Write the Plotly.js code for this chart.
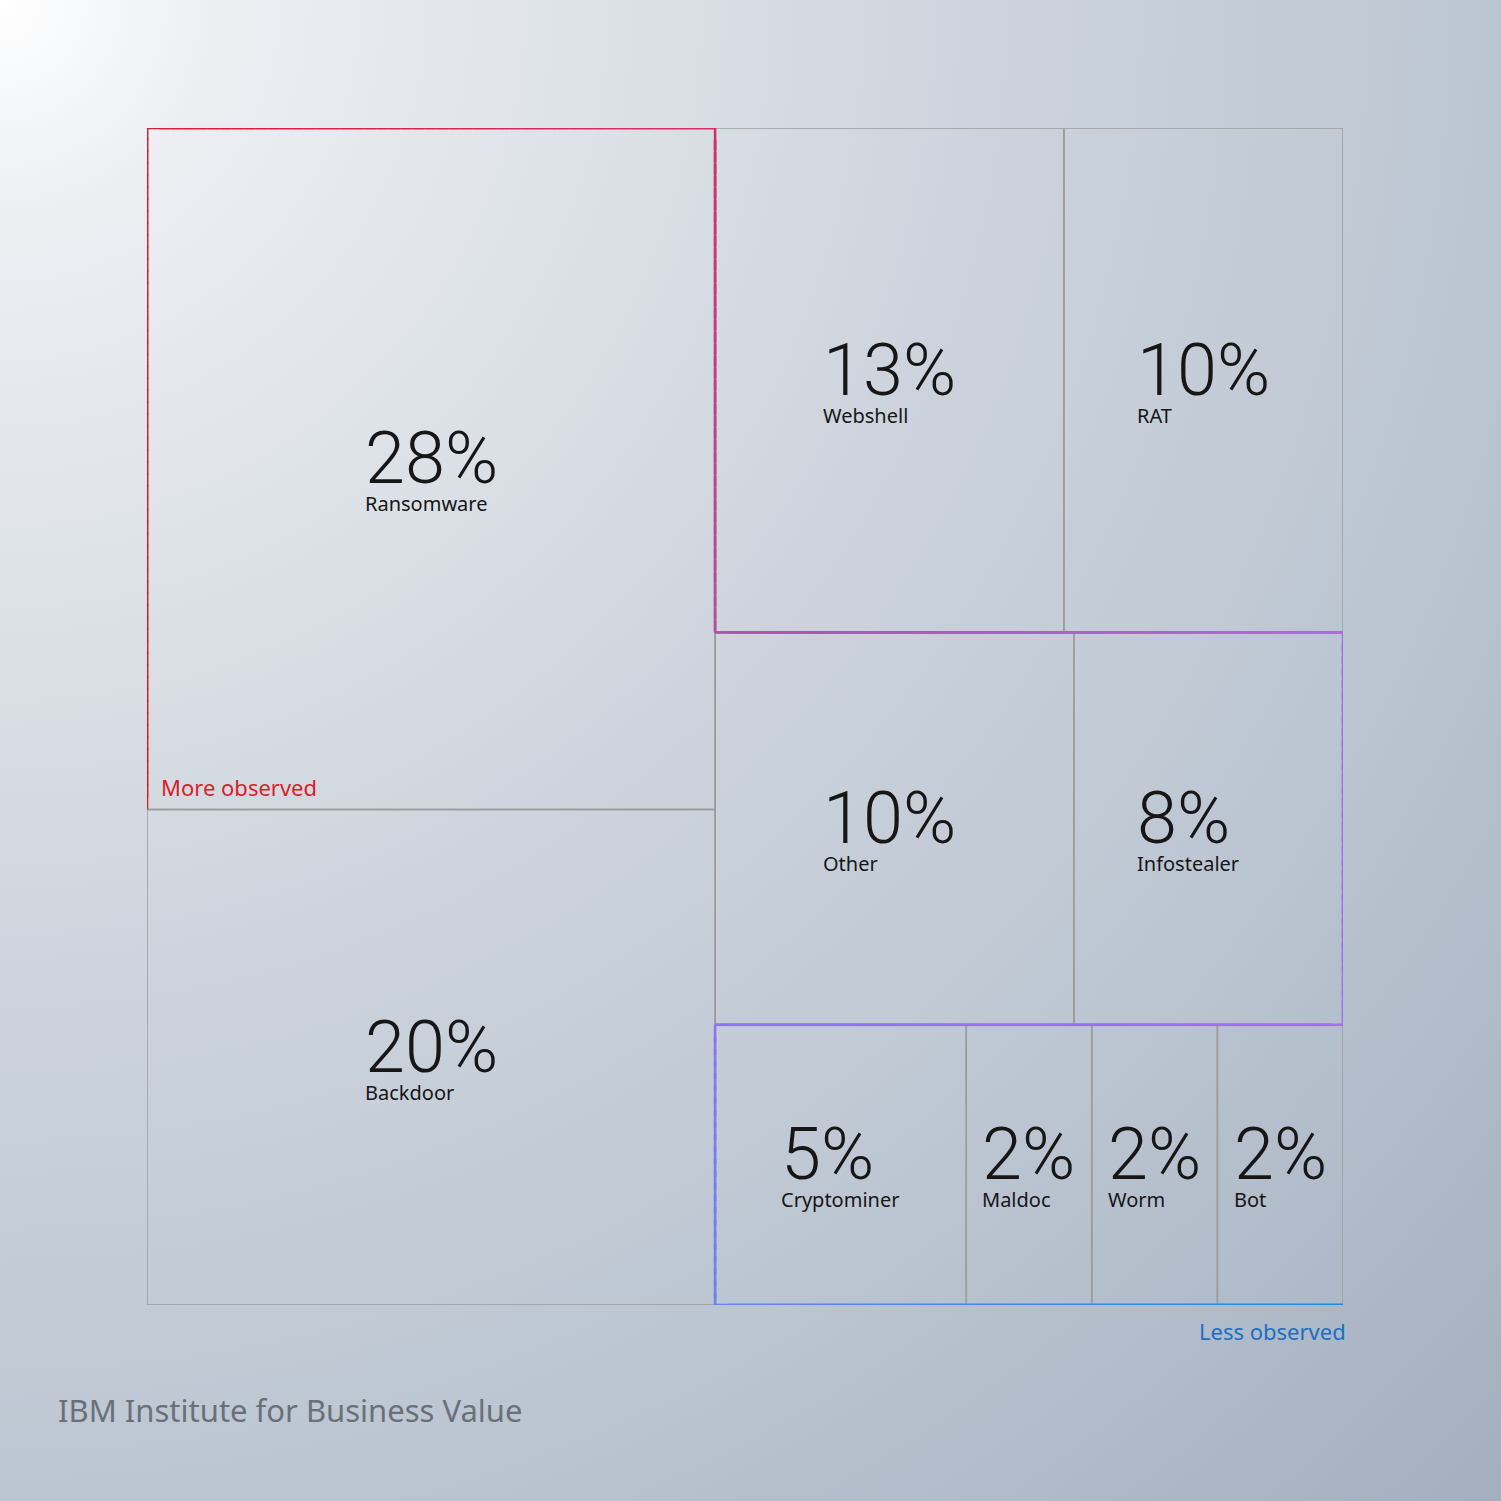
<!DOCTYPE html>
<html>
<head>
<meta charset="utf-8">
<script src="https://cdn.plot.ly/plotly-3.0.1.min.js"></script>
<style>
  html, body { margin: 0; padding: 0; overflow: hidden; }
  #chart {
    width: 1501px; height: 1501px;
    background: radial-gradient(circle at 0px 0px, #ffffff 0px, #eceef2 220px, #dde2e8 600px, #ccd3dc 1000px, #bcc6d2 1500px, #a4afbf 2122px);
  }
</style>
</head>
<body>
<div id="chart"></div>
<script>
// ---------------- data ----------------
const categories  = ['Ransomware', 'Backdoor', 'Webshell', 'RAT', 'Other', 'Infostealer', 'Cryptominer', 'Maldoc', 'Worm', 'Bot'];
const shares      = [27.5, 20, 12.5, 10, 10, 7.5, 5, 2.5, 2.5, 2.5];
const shareLabels = ['28%', '20%', '13%', '10%', '10%', '8%', '5%', '2%', '2%', '2%'];
// treemap structure: columns -> rows -> categories
const leftColumnRows  = [['Ransomware'], ['Backdoor']];
const rightColumnRows = [['Webshell', 'RAT'], ['Other', 'Infostealer'], ['Cryptominer', 'Maldoc', 'Worm', 'Bot']];
// labels of these cells line up with the labels of the cell above
const alignTextWith = { Other: 'Webshell', Infostealer: 'RAT' };
const sourceText = 'IBM Institute for Business Value';
const moreText = 'More observed';
const lessText = 'Less observed';

// ---------------- layout computation ----------------
const W = 1501, H = 1501;
const M = { l: 147, r: 158, t: 128, b: 196 };
const plotW = W - M.l - M.r, plotH = H - M.t - M.b;

const valueOf = name => shares[categories.indexOf(name)];
const sum = arr => arr.reduce((a, n) => a + valueOf(n), 0);
const total = shares.reduce((a, b) => a + b, 0);
const rects = {};
let cx = 0;
[leftColumnRows, rightColumnRows].forEach(col => {
  const colSum = col.reduce((a, row) => a + sum(row), 0);
  const colW = colSum / total * 100;
  let cy = 0;
  col.forEach(row => {
    const rowSum = sum(row);
    const rowH = rowSum / colSum * 100;
    let rx = cx;
    row.forEach(name => {
      const w = valueOf(name) / rowSum * colW;
      rects[name] = { x0: rx, x1: rx + w, y0: cy, y1: cy + rowH };
      rx += w;
    });
    cy += rowH;
  });
  cx += colW;
});

const traces = [];
// grey cell outlines
const gx = [], gy = [];
categories.forEach(name => {
  const r = rects[name];
  gx.push(r.x0, r.x1, r.x1, r.x0, r.x0, null);
  gy.push(r.y0, r.y0, r.y1, r.y1, r.y0, null);
});
traces.push({ type: 'scatter', mode: 'lines', x: gx, y: gy, line: { color: '#9c9c9c', width: 1.5 }, hoverinfo: 'skip', showlegend: false });

// gradient "more -> less observed" staircase
const R = rects['Ransomware'], Wr = rects['Webshell'], Or = rects['Other'], Cr = rects['Cryptominer'];
const verts = [
  [R.x0, R.y1], [R.x0, R.y0], [R.x1, R.y0], [Wr.x0, Wr.y1], [100, Wr.y1],
  [100, Or.y1], [Cr.x0, Cr.y0], [Cr.x0, 100], [100, 100]
];
const vcols = ['#da1e28', '#d81f38', '#cf3168', '#b64f9e', '#a66de6', '#a070ee', '#8a74f6', '#6a82ee', '#1a8ee0'];
function hex2rgb(h) { return [1, 3, 5].map(i => parseInt(h.substr(i, 2), 16)); }
function mix(a, b, t) { const A = hex2rgb(a), B = hex2rgb(b); return 'rgb(' + A.map((v, i) => Math.round(v + (B[i] - v) * t)).join(',') + ')'; }
for (let i = 0; i < verts.length - 1; i++) {
  const [xa, ya] = verts[i], [xb, yb] = verts[i + 1];
  const lenPx = Math.abs(xb - xa) * plotW / 100 + Math.abs(yb - ya) * plotH / 100;
  const n = Math.max(2, Math.round(lenPx / 12));
  for (let k = 0; k < n; k++) {
    const t0 = k / n, t1 = (k + 1) / n;
    traces.push({
      type: 'scatter', mode: 'lines',
      x: [xa + (xb - xa) * t0, xa + (xb - xa) * Math.min(1, t1 + 0.02)],
      y: [ya + (yb - ya) * t0, ya + (yb - ya) * Math.min(1, t1 + 0.02)],
      line: { color: mix(vcols[i], vcols[i + 1], (t0 + t1) / 2), width: 2.6 },
      hoverinfo: 'skip', showlegend: false
    });
  }
}

// ---------------- text ----------------
const numFont = { family: 'Roboto', size: 72, weight: 300 };
const labFont = { family: 'Noto Sans', size: 20, weight: 400 };
const ctx = document.createElement('canvas').getContext('2d');
function measure(txt, f) { ctx.font = f.weight + ' ' + f.size + 'px "' + f.family + '"'; return ctx.measureText(txt).width; }

const lefts = {};
categories.forEach((name, i) => {
  const r = rects[name];
  const blockW = Math.max(measure(shareLabels[i], numFont), measure(name, labFont)) / plotW * 100;
  lefts[name] = (r.x0 + r.x1) / 2 - blockW / 2;
});
Object.keys(alignTextWith).forEach(k => { lefts[k] = lefts[alignTextWith[k]]; });

const annotations = [];
categories.forEach((name, i) => {
  const r = rects[name];
  const txt = "<span style='font-family:Roboto;font-weight:300;font-size:72px'>" + shareLabels[i] + "</span><br>" +
              "<span style='font-size:20px'>" + name + "</span>";
  annotations.push({ x: lefts[name], y: (r.y0 + r.y1) / 2, xref: 'x', yref: 'y', text: txt, showarrow: false,
    xanchor: 'left', yanchor: 'middle', align: 'left', yshift: 2,
    font: { family: 'Noto Sans', size: 21.5, color: '#161616' }, borderpad: 0, borderwidth: 0 });
});
annotations.push({ x: R.x0, y: R.y1, xref: 'x', yref: 'y', text: moreText, showarrow: false,
  xanchor: 'left', yanchor: 'middle', xshift: 14, yshift: 22, font: { family: 'Noto Sans', size: 22, color: '#da1e28' }, borderpad: 0, borderwidth: 0 });
annotations.push({ x: 100, y: 100, xref: 'x', yref: 'y', text: lessText, showarrow: false,
  xanchor: 'right', yanchor: 'middle', xshift: 3, yshift: -26, font: { family: 'Noto Sans', size: 22, color: '#1a6fc4' }, borderpad: 0, borderwidth: 0 });
annotations.push({ x: (58 - M.l) / plotW, y: (M.t + plotH - 1410) / plotH, xref: 'paper', yref: 'paper', text: sourceText, showarrow: false,
  xanchor: 'left', yanchor: 'middle', font: { family: 'Noto Sans', size: 31, color: '#6a7079' }, borderpad: 0, borderwidth: 0 });

const layout = {
  width: W, height: H,
  margin: M,
  paper_bgcolor: 'rgba(0,0,0,0)', plot_bgcolor: 'rgba(0,0,0,0)',
  xaxis: { range: [0, 100], visible: false, fixedrange: true },
  yaxis: { range: [100, 0], visible: false, fixedrange: true },
  annotations: annotations,
  showlegend: false
};
Plotly.newPlot('chart', traces, layout, { displayModeBar: false, staticPlot: true });
</script>
</body>
</html>
